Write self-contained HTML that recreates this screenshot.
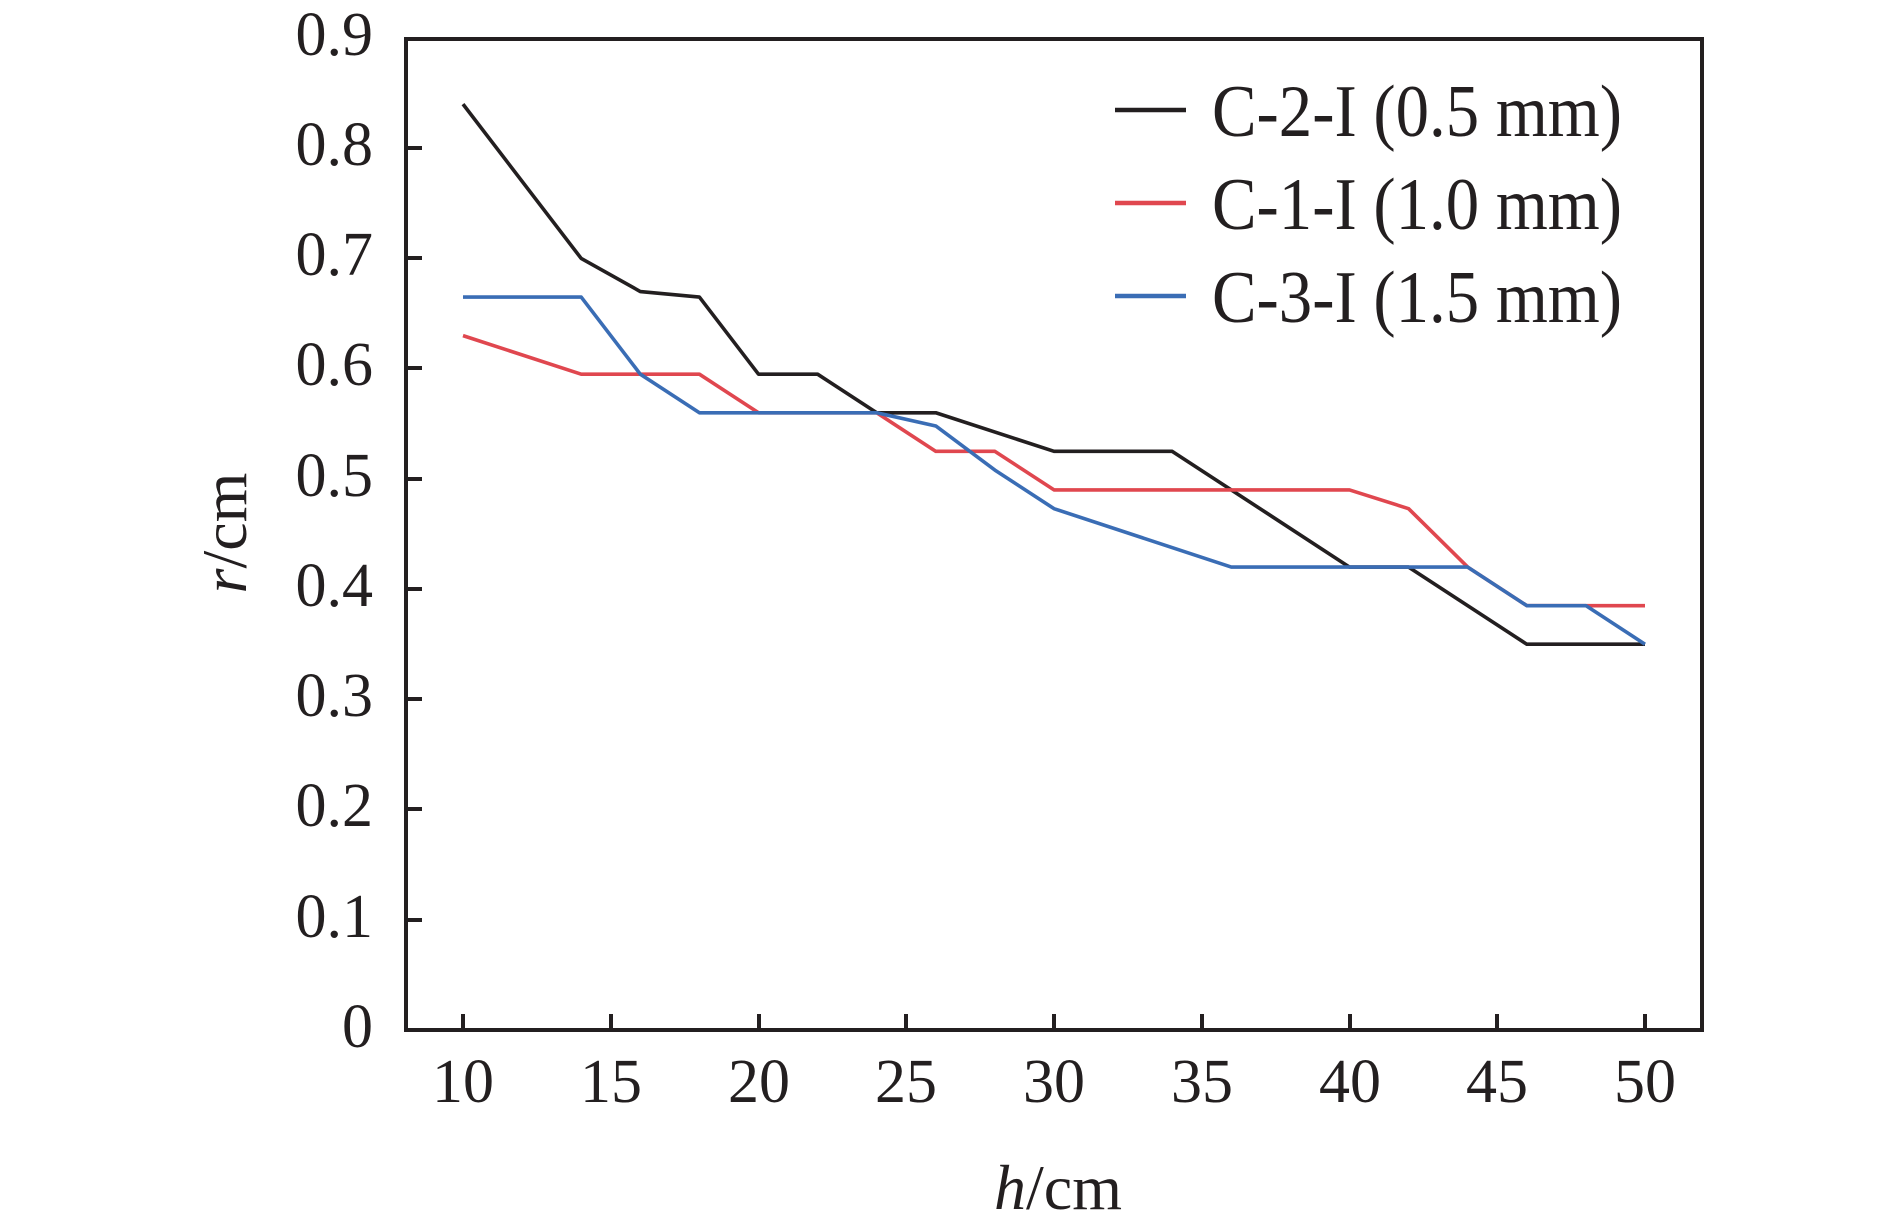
<!DOCTYPE html>
<html><head><meta charset="utf-8"><style>
html,body{margin:0;padding:0;background:#fff;}
svg{display:block;font-family:"Liberation Serif",serif;fill:#231f20;}
</style></head><body>
<svg width="1890" height="1224" viewBox="0 0 1890 1224" xmlns="http://www.w3.org/2000/svg">
<rect width="1890" height="1224" fill="#fff"/>
<g transform="translate(167.5,1030) scale(29.55,-1102.2)" fill="none" stroke-linejoin="round">
<polyline vector-effect="non-scaling-stroke" stroke="#231f20" stroke-width="3.6" points="10,0.84 14,0.70 16,0.67 18,0.665 20,0.595 22,0.595 24,0.56 26,0.56 30,0.525 34,0.525 40,0.42 42,0.42 46,0.35 50,0.35"/>
<polyline vector-effect="non-scaling-stroke" stroke="#e0474f" stroke-width="3.6" points="10,0.63 14,0.595 18,0.595 20,0.56 24,0.56 26,0.525 28,0.525 30,0.49 40,0.49 42,0.473 44,0.42 46,0.385 50,0.385"/>
<polyline vector-effect="non-scaling-stroke" stroke="#3a6db5" stroke-width="3.6" points="10,0.665 14,0.665 16,0.595 18,0.56 24,0.56 26,0.548 28,0.508 30,0.473 36,0.42 44,0.42 46,0.385 48,0.385 50,0.35"/>
</g>
<g stroke="#231f20" stroke-width="4" fill="none">
<rect x="406" y="39" width="1296" height="991"/>
<path d="M406 148h16M406 258h16M406 368h16M406 479h16M406 589h16M406 699h16M406 809h16M406 920h16"/>
<path d="M463 1030v-16M611 1030v-16M759 1030v-16M906 1030v-16M1054 1030v-16M1202 1030v-16M1350 1030v-16M1497 1030v-16M1645 1030v-16"/>
</g>
<g font-size="62" text-anchor="end">
<text x="373" y="55">0.9</text><text x="373" y="165">0.8</text><text x="373" y="275">0.7</text><text x="373" y="385">0.6</text><text x="373" y="496">0.5</text><text x="373" y="606">0.4</text><text x="373" y="716">0.3</text><text x="373" y="826">0.2</text><text x="373" y="937">0.1</text><text x="373" y="1047">0</text>
</g>
<g font-size="62" text-anchor="middle">
<text x="463" y="1102">10</text><text x="611" y="1102">15</text><text x="759" y="1102">20</text><text x="906" y="1102">25</text><text x="1054" y="1102">30</text><text x="1202" y="1102">35</text><text x="1350" y="1102">40</text><text x="1497" y="1102">45</text><text x="1645" y="1102">50</text>
<text x="1058" y="1209" font-size="64"><tspan font-style="italic">h</tspan>/cm</text>
<text transform="translate(246,533) rotate(-90)" font-size="64"><tspan font-style="italic">r</tspan>/cm</text>
</g>
<g stroke-width="4.5">
<line x1="1115" y1="110" x2="1186" y2="110" stroke="#231f20"/>
<line x1="1115" y1="203" x2="1186" y2="203" stroke="#e0474f"/>
<line x1="1115" y1="296" x2="1186" y2="296" stroke="#3a6db5"/>
</g>
<g font-size="74">
<text x="1212" y="136" textLength="410" lengthAdjust="spacingAndGlyphs">C-2-I (0.5 mm)</text>
<text x="1212" y="229" textLength="410" lengthAdjust="spacingAndGlyphs">C-1-I (1.0 mm)</text>
<text x="1212" y="322" textLength="410" lengthAdjust="spacingAndGlyphs">C-3-I (1.5 mm)</text>
</g>
</svg>
</body></html>
